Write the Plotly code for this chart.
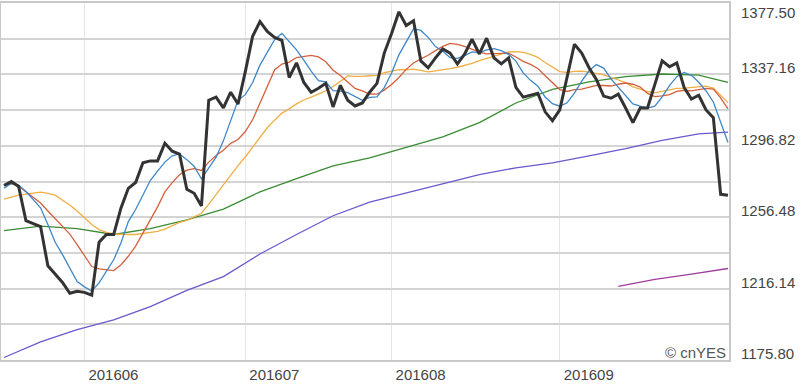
import plotly.graph_objects as go

# trading-day index (2016-05-16 .. early Oct 2016)
n_days = 100
days = list(range(n_days))

close = [1274.4, 1276.6, 1273.9, 1254.5, 1252.8, 1251.2, 1229.0, 1224.0, 1219.6, 1213.5,
         1214.6, 1214.0, 1212.4, 1242.3, 1246.7, 1246.7, 1261.7, 1272.8, 1276.1, 1287.2,
         1288.3, 1288.3, 1298.3, 1293.8, 1292.2, 1272.2, 1270.0, 1262.8, 1322.6, 1324.3,
         1318.2, 1327.1, 1320.4, 1338.7, 1358.7, 1367.0, 1361.4, 1358.1, 1356.4, 1335.4,
         1343.7, 1332.6, 1327.1, 1329.3, 1332.1, 1318.8, 1331.0, 1322.6, 1319.3, 1321.0,
         1327.1, 1332.1, 1349.2, 1360.3, 1372.5, 1364.8, 1367.5, 1344.8, 1340.9, 1346.5,
         1351.5, 1349.2, 1343.1, 1348.7, 1357.0, 1348.7, 1357.6, 1346.5, 1343.1, 1346.5,
         1329.8, 1324.3, 1325.4, 1326.5, 1316.0, 1311.0, 1317.1, 1334.8, 1354.2, 1349.2,
         1340.9, 1334.3, 1324.9, 1323.7, 1326.0, 1318.2, 1309.9, 1318.2, 1318.2, 1331.5,
         1344.8, 1341.5, 1343.7, 1329.8, 1323.2, 1325.4, 1317.1, 1312.7, 1269.4, 1268.9]

ma5 = [1272.8, 1275.5, 1274.6, 1271.0, 1266.4, 1261.8, 1252.3, 1242.3, 1235.3, 1227.5,
       1220.1, 1217.1, 1214.8, 1219.4, 1226.0, 1232.4, 1242.0, 1254.0, 1260.8, 1268.9,
       1277.2, 1282.5, 1287.6, 1291.2, 1292.2, 1289.0, 1285.3, 1278.2, 1284.0, 1290.4,
       1299.6, 1311.0, 1322.5, 1325.7, 1332.6, 1342.4, 1349.2, 1356.8, 1360.3, 1355.7,
       1351.0, 1345.2, 1339.0, 1333.6, 1333.0, 1328.0, 1327.7, 1326.8, 1324.8, 1322.5,
       1324.2, 1324.4, 1329.7, 1337.9, 1348.2, 1355.8, 1362.9, 1362.0, 1358.1, 1352.9,
       1350.2, 1346.6, 1346.2, 1347.8, 1349.9, 1349.3, 1351.0, 1351.7, 1350.6, 1348.5,
       1344.7, 1338.0, 1333.8, 1330.5, 1324.4, 1320.6, 1319.2, 1321.1, 1326.6, 1333.3,
       1339.2, 1342.7, 1340.7, 1334.6, 1330.0, 1325.4, 1320.5, 1319.2, 1318.1, 1319.2,
       1324.5, 1330.8, 1335.9, 1338.3, 1336.6, 1332.7, 1327.8, 1321.6, 1309.6, 1298.7]

ma10 = [1275.0, 1275.5, 1274.0, 1271.0, 1267.5, 1264.5, 1260.0, 1255.5, 1251.0, 1246.9,
        1241.0, 1234.7, 1228.6, 1227.3, 1226.7, 1226.3, 1229.6, 1234.4, 1240.1, 1247.5,
        1254.8, 1262.3, 1270.8, 1276.0, 1280.5, 1283.1, 1283.9, 1282.9, 1287.6, 1291.3,
        1294.3, 1298.2, 1300.4, 1304.9, 1311.5, 1321.0, 1330.1, 1339.7, 1343.0, 1344.1,
        1346.7, 1347.2, 1347.9, 1347.0, 1344.3, 1339.5, 1336.5, 1332.9, 1329.2, 1327.8,
        1326.1, 1326.0, 1328.3, 1331.4, 1335.4, 1340.0, 1343.6, 1345.9, 1348.0, 1350.6,
        1353.0, 1354.7, 1354.1, 1353.0, 1351.4, 1349.8, 1348.8, 1349.0, 1349.2, 1349.2,
        1347.0, 1344.5, 1342.8, 1340.5, 1336.4, 1332.7, 1328.6, 1327.5, 1328.6, 1328.8,
        1329.9, 1330.9, 1330.9, 1330.6, 1331.6, 1332.3, 1331.6, 1330.0, 1326.4, 1324.6,
        1325.0, 1325.7, 1327.6, 1328.2, 1327.9, 1328.6, 1329.3, 1328.8, 1323.9, 1317.7]

ma20 = [1266.7, 1267.8, 1268.9, 1269.5, 1270.0, 1270.6, 1270.0, 1268.9, 1266.1, 1263.4,
        1260.0, 1256.2, 1252.4, 1249.5, 1247.9, 1247.0, 1246.7, 1246.7, 1246.7, 1247.2,
        1247.9, 1248.5, 1249.7, 1251.7, 1253.6, 1254.7, 1256.8, 1258.7, 1263.9, 1269.4,
        1274.6, 1280.3, 1285.6, 1290.5, 1296.0, 1302.1, 1307.0, 1311.3, 1315.3, 1317.7,
        1320.5, 1322.7, 1324.2, 1326.0, 1327.9, 1330.3, 1333.3, 1336.3, 1336.1, 1336.0,
        1336.4, 1336.6, 1338.1, 1339.2, 1339.9, 1339.8, 1340.1, 1339.4, 1338.6, 1339.2,
        1339.6, 1340.4, 1341.2, 1342.2, 1343.4, 1344.9, 1346.2, 1347.5, 1348.6, 1349.9,
        1350.0, 1349.6, 1348.5, 1346.8, 1343.9, 1341.3, 1338.7, 1338.3, 1338.9, 1339.0,
        1338.5, 1337.7, 1336.9, 1335.6, 1334.0, 1332.5, 1330.1, 1328.8, 1327.5, 1326.7,
        1327.5, 1328.3, 1329.3, 1329.4, 1329.8, 1330.5, 1330.5, 1329.4, 1325.2, 1321.2]

long_days = [0, 5, 10, 15, 20, 25, 30, 35, 40, 45, 50, 55, 60, 65, 70, 75, 80, 85, 90, 95, 99]
ma60 = [1248.9, 1251.4, 1250.0, 1246.7, 1250.0, 1255.0, 1261.1, 1270.8, 1278.3, 1285.5,
        1290.0, 1296.1, 1301.9, 1309.9, 1321.0, 1328.7, 1332.9, 1335.9, 1337.4, 1336.8, 1332.6]
ma120 = [1177.2, 1186.0, 1193.0, 1198.5, 1206.0, 1215.1, 1222.9, 1235.7, 1246.7, 1257.3,
         1265.0, 1270.3, 1275.3, 1280.5, 1284.4, 1287.2, 1291.1, 1295.2, 1299.9, 1303.6, 1304.6]

ma240_days = [84, 89, 94, 99]
ma240 = [1217.4, 1221.3, 1224.3, 1227.5]

month_ticks = [11, 33, 53, 76]
month_labels = ["201606", "201607", "201608", "201609"]

y_min, y_max = 1175.80, 1377.50
y_grid = [1175.80, 1195.97, 1216.14, 1236.31, 1256.48, 1276.65, 1296.82,
          1316.99, 1337.16, 1357.33, 1377.50]
y_labels = [1377.50, 1337.16, 1296.82, 1256.48, 1216.14, 1175.80]

FONT = "Arial, Liberation Sans, sans-serif"

fig = go.Figure()
fig.add_trace(go.Scatter(x=ma240_days, y=ma240, mode="lines",
                         line=dict(color="#a03c9c", width=1.3), name="MA240"))
fig.add_trace(go.Scatter(x=long_days, y=ma120, mode="lines",
                         line=dict(color="#6a5acd", width=1.3), name="MA120"))
fig.add_trace(go.Scatter(x=long_days, y=ma60, mode="lines",
                         line=dict(color="#3a8c34", width=1.3), name="MA60"))
fig.add_trace(go.Scatter(x=days, y=ma20, mode="lines",
                         line=dict(color="#f0ae45", width=1.3), name="MA20"))
fig.add_trace(go.Scatter(x=days, y=ma10, mode="lines",
                         line=dict(color="#d4613e", width=1.3), name="MA10"))
fig.add_trace(go.Scatter(x=days, y=ma5, mode="lines",
                         line=dict(color="#3f87c8", width=1.3), name="MA5"))
fig.add_trace(go.Scatter(x=days, y=close, mode="lines",
                         line=dict(color="#333333", width=3), name="Close"))

for i, v in enumerate(y_labels):
    first = i == 0
    fig.add_annotation(
        xref="paper", x=1, xanchor="left", xshift=10,
        yref="y", y=v,
        yanchor="top" if first else "bottom",
        yshift=1 if first else -4,
        text=f"{v:.2f}", showarrow=False,
        font=dict(family=FONT, size=15, color="#444444"))

fig.add_annotation(xref="paper", x=1, xanchor="right", xshift=-1,
                   yref="paper", y=0, yanchor="bottom", yshift=-3,
                   text="© cnYES", showarrow=False,
                   font=dict(family=FONT, size=15, color="#555555"))

fig.update_layout(
    width=800, height=384,
    margin=dict(l=1, r=71, t=1, b=19),
    paper_bgcolor="white", plot_bgcolor="white",
    showlegend=False,
    xaxis=dict(range=[-0.41, 99.14], tickvals=month_ticks, ticktext=month_labels,
               showgrid=True, gridcolor="#e6e6e6", gridwidth=1,
               zeroline=False, showline=True, mirror=True, linecolor="#c8c8c8",
               linewidth=1.5, ticks="", ticklabelshift=29, ticklabelstandoff=0,
               tickfont=dict(family=FONT, size=15, color="#444444")),
    yaxis=dict(range=[y_min, y_max], tickvals=y_grid, showticklabels=False,
               showgrid=True, gridcolor="#d4d4d4", gridwidth=1.5,
               zeroline=False, showline=True, mirror=True, linecolor="#c8c8c8",
               linewidth=1.5, ticks=""),
)

fig.write_html("out.html", config={"displayModeBar": False},
               post_script="document.body.style.margin='0px';document.body.style.overflow='hidden';")
